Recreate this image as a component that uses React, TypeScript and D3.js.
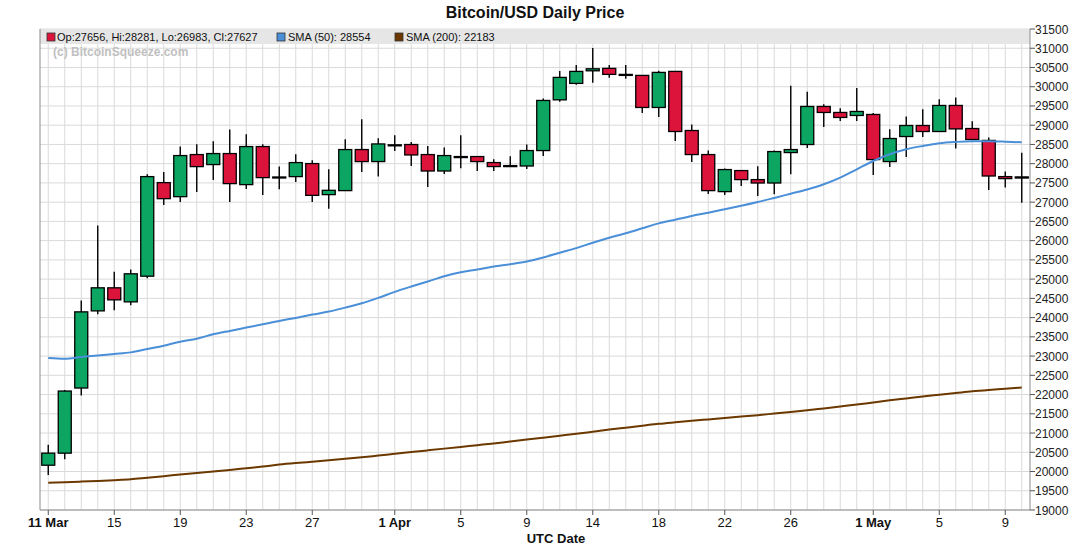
import * as d3 from "d3";
import React from "react";

// one entry per candle (Apr 12 is missing in the source data)
const dates = [
  "Mar 11", "Mar 12", "Mar 13", "Mar 14", "Mar 15", "Mar 16", "Mar 17", "Mar 18", "Mar 19", "Mar 20",
  "Mar 21", "Mar 22", "Mar 23", "Mar 24", "Mar 25", "Mar 26", "Mar 27", "Mar 28", "Mar 29", "Mar 30",
  "Mar 31", "Apr 1", "Apr 2", "Apr 3", "Apr 4", "Apr 5", "Apr 6", "Apr 7", "Apr 8", "Apr 9",
  "Apr 10", "Apr 11", "Apr 13", "Apr 14", "Apr 15", "Apr 16", "Apr 17", "Apr 18", "Apr 19", "Apr 20",
  "Apr 21", "Apr 22", "Apr 23", "Apr 24", "Apr 25", "Apr 26", "Apr 27", "Apr 28", "Apr 29", "Apr 30",
  "May 1", "May 2", "May 3", "May 4", "May 5", "May 6", "May 7", "May 8", "May 9", "May 10",
];

const open = [
  20164, 20477, 22170, 24175, 24774, 24409, 25076, 27508, 27143, 28237,
  27977, 28263, 27456, 28445, 27636, 27664, 28003, 27196, 27300, 28367,
  28055, 28470, 28498, 28237, 27810, 28170, 28185, 28029, 27950, 27940,
  28341, 29659, 30086, 30414, 30477, 30320, 30294, 29461, 30398, 28862,
  28237, 27274, 27821, 27586, 27498, 28289, 28498, 29487, 29331, 29253,
  29279, 28055, 28706, 28992, 28836, 29513, 28914, 28604, 27664, 27656,
];
const high = [
  20693, 22120, 24443, 26396, 25190, 25250, 27724, 27784, 28445, 28505,
  28583, 28888, 28766, 28505, 27924, 28245, 28089, 27854, 28636, 29156,
  28662, 28740, 28566, 28461, 28419, 28740, 28190, 28115, 28193, 28498,
  29696, 30406, 30563, 31005, 30563, 30563, 30294, 30414, 30398, 29018,
  28341, 27873, 27821, 27932, 28341, 30024, 29867, 29547, 29443, 29964,
  29320, 28896, 29227, 29417, 29677, 29721, 29104, 28680, 27794, 28281,
];
const low = [
  19911, 20321, 21977, 24086, 24191, 24321, 25024, 26925, 27003, 27263,
  27576, 27003, 27341, 27185, 27333, 27524, 27003, 26831, 27300, 27784,
  27664, 28331, 27940, 27393, 27732, 27880, 27810, 27810, 27915, 27862,
  28201, 29607, 30050, 30102, 30232, 30206, 29320, 29216, 28591, 28044,
  27211, 27185, 27419, 27159, 27204, 27724, 28409, 28956, 29112, 29112,
  27706, 27914, 28175, 28695, 28836, 28393, 28620, 27315, 27378, 26983,
];
const close = [
  20477, 22091, 24149, 24774, 24461, 25138, 27664, 27091, 28211, 27924,
  28263, 27482, 28445, 27638, 27654, 28029, 27177, 27308, 28367, 28055,
  28513, 28490, 28227, 27810, 28211, 28185, 28055, 27925, 27940, 28341,
  29643, 30242, 30398, 30466, 30320, 30300, 29461, 30372, 28836, 28237,
  27300, 27847, 27586, 27498, 28315, 28367, 29487, 29331, 29201, 29357,
  28107, 28654, 28992, 28836, 29513, 28904, 28628, 27680, 27612, 27627,
];

const sma50 = [
  22950, 22932, 22976, 23018, 23055, 23096, 23185, 23271, 23375, 23453,
  23565, 23654, 23740, 23826, 23914, 23992, 24078, 24156, 24260, 24372,
  24513, 24669, 24807, 24937, 25075, 25180, 25250, 25328, 25388, 25458,
  25562, 25685, 25805, 25945, 26075, 26190, 26320, 26448, 26545, 26640,
  26726, 26815, 26905, 27003, 27110, 27220, 27330, 27464, 27638, 27854,
  28070, 28245, 28375, 28461, 28531, 28565, 28583, 28583, 28572, 28554,
];
const sma200 = [
  19711, 19722, 19738, 19756, 19776, 19800, 19840, 19880, 19920, 19960,
  20000, 20040, 20085, 20130, 20180, 20220, 20255, 20290, 20330, 20370,
  20415, 20460, 20505, 20550, 20595, 20640, 20685, 20730, 20780, 20830,
  20880, 20930, 20980, 21035, 21090, 21140, 21190, 21240, 21280, 21318,
  21355, 21392, 21428, 21465, 21505, 21545, 21590, 21640, 21690, 21740,
  21795, 21850, 21900, 21950, 21995, 22040, 22085, 22120, 22150, 22183,
];

const tickDates = ["Mar 11", "Mar 15", "Mar 19", "Mar 23", "Mar 27", "Apr 1", "Apr 5", "Apr 9",
  "Apr 14", "Apr 18", "Apr 22", "Apr 26", "May 1", "May 5", "May 9"];
const tickLabels = ["11 Mar", "15", "19", "23", "27", "1 Apr", "5", "9",
  "14", "18", "22", "26", "1 May", "5", "9"];

const FONT = "'Liberation Sans', Arial, sans-serif";
const UP = "#0ca562";
const DOWN = "#dc143c";
const BLUE = "#4a8fd8";
const BROWN = "#6b3800";

export default function App() {
  const left = 40, right = 1030, top = 29, bottom = 510;

  const x = d3.scalePoint<string>().domain(dates).range([left, right]).padding(0.5);
  const y = d3.scaleLinear().domain([19000, 31500]).range([bottom, top]);
  const yTicks = y.ticks(25);
  const bodyW = 13;

  const maLine = d3.line<number>()
    .x((_, i) => x(dates[i]) as number)
    .y((d) => y(d))
    .curve(d3.curveMonotoneX);

  return (
    <svg width={1070} height={546} style={{ position: "absolute", left: 0, top: 0 }} fontFamily={FONT}>
      <rect width={1070} height={546} fill="#fff" />

      {/* grid */}
      {dates.map((d) => (
        <line key={"gx" + d} x1={x(d)} x2={x(d)} y1={top} y2={bottom} stroke="#dadada" strokeWidth={1} />
      ))}
      {yTicks.map((t) => (
        <line key={"gy" + t} x1={left} x2={right} y1={y(t)} y2={y(t)} stroke="#dadada" strokeWidth={1} />
      ))}

      {/* legend band */}
      <rect x={left} y={top} width={right - left} height={15} fill="#e6e6e6" />
      <rect x={47} y={33} width={8} height={8} fill={DOWN} stroke="#333" strokeWidth={0.8} />
      <text x={57} y={40.5} fontSize={11} fill="#111">
        Op:27656, Hi:28281, Lo:26983, Cl:27627
      </text>
      <rect x={277} y={33} width={8} height={8} fill={BLUE} stroke="#333" strokeWidth={0.8} />
      <text x={288} y={40.5} fontSize={11} fill="#111">SMA (50): 28554</text>
      <rect x={395} y={33} width={8} height={8} fill={BROWN} stroke="#333" strokeWidth={0.8} />
      <text x={406} y={40.5} fontSize={11} fill="#111">SMA (200): 22183</text>
      <text x={53} y={56} fontSize={12} fontWeight="bold" fill="#c0c0c0">(c) BitcoinSqueeze.com</text>

      {/* candles */}
      {dates.map((d, i) => {
        const cx = x(d) as number;
        const o = open[i], c = close[i];
        const yTop = y(Math.max(o, c));
        const h = Math.max(1, Math.abs(y(o) - y(c)));
        return (
          <g key={"c" + d}>
            <line x1={cx} x2={cx} y1={y(high[i])} y2={y(low[i])} stroke="#000" strokeWidth={1.4} />
            <rect x={cx - bodyW / 2} y={yTop} width={bodyW} height={h}
              fill={c >= o ? UP : DOWN} stroke="#000" strokeWidth={1.3} />
          </g>
        );
      })}

      {/* moving averages */}
      <path d={maLine(sma200) || ""} fill="none" stroke={BROWN} strokeWidth={2} />
      <path d={maLine(sma50) || ""} fill="none" stroke={BLUE} strokeWidth={2} />

      {/* frame */}
      <line x1={left} x2={left} y1={top} y2={bottom} stroke="#8c8c8c" />
      <line x1={right} x2={right} y1={top} y2={bottom} stroke="#8c8c8c" />
      <line x1={left} x2={right} y1={bottom} y2={bottom} stroke="#8c8c8c" />

      {/* y axis on the right */}
      {yTicks.map((t) => (
        <g key={"yt" + t}>
          <line x1={right} x2={right + 5} y1={y(t)} y2={y(t)} stroke="#555" />
          <text x={right + 5} y={y(t) + 4.5} fontSize={12} fill="#222">{t}</text>
        </g>
      ))}

      {/* x axis */}
      {tickDates.map((d, i) => (
        <g key={"xt" + d}>
          <line x1={x(d)} x2={x(d)} y1={bottom} y2={bottom + 5} stroke="#555" />
          <text x={x(d)} y={527} fontSize={13} textAnchor="middle" fill="#111"
            fontWeight={tickLabels[i].length > 2 ? "bold" : "normal"}>
            {tickLabels[i]}
          </text>
        </g>
      ))}

      <text x={556} y={543} fontSize={13} fontWeight="bold" textAnchor="middle" fill="#111">UTC Date</text>
      <text x={535} y={18} fontSize={16} fontWeight="bold" textAnchor="middle" fill="#111">
        Bitcoin/USD Daily Price
      </text>
    </svg>
  );
}
